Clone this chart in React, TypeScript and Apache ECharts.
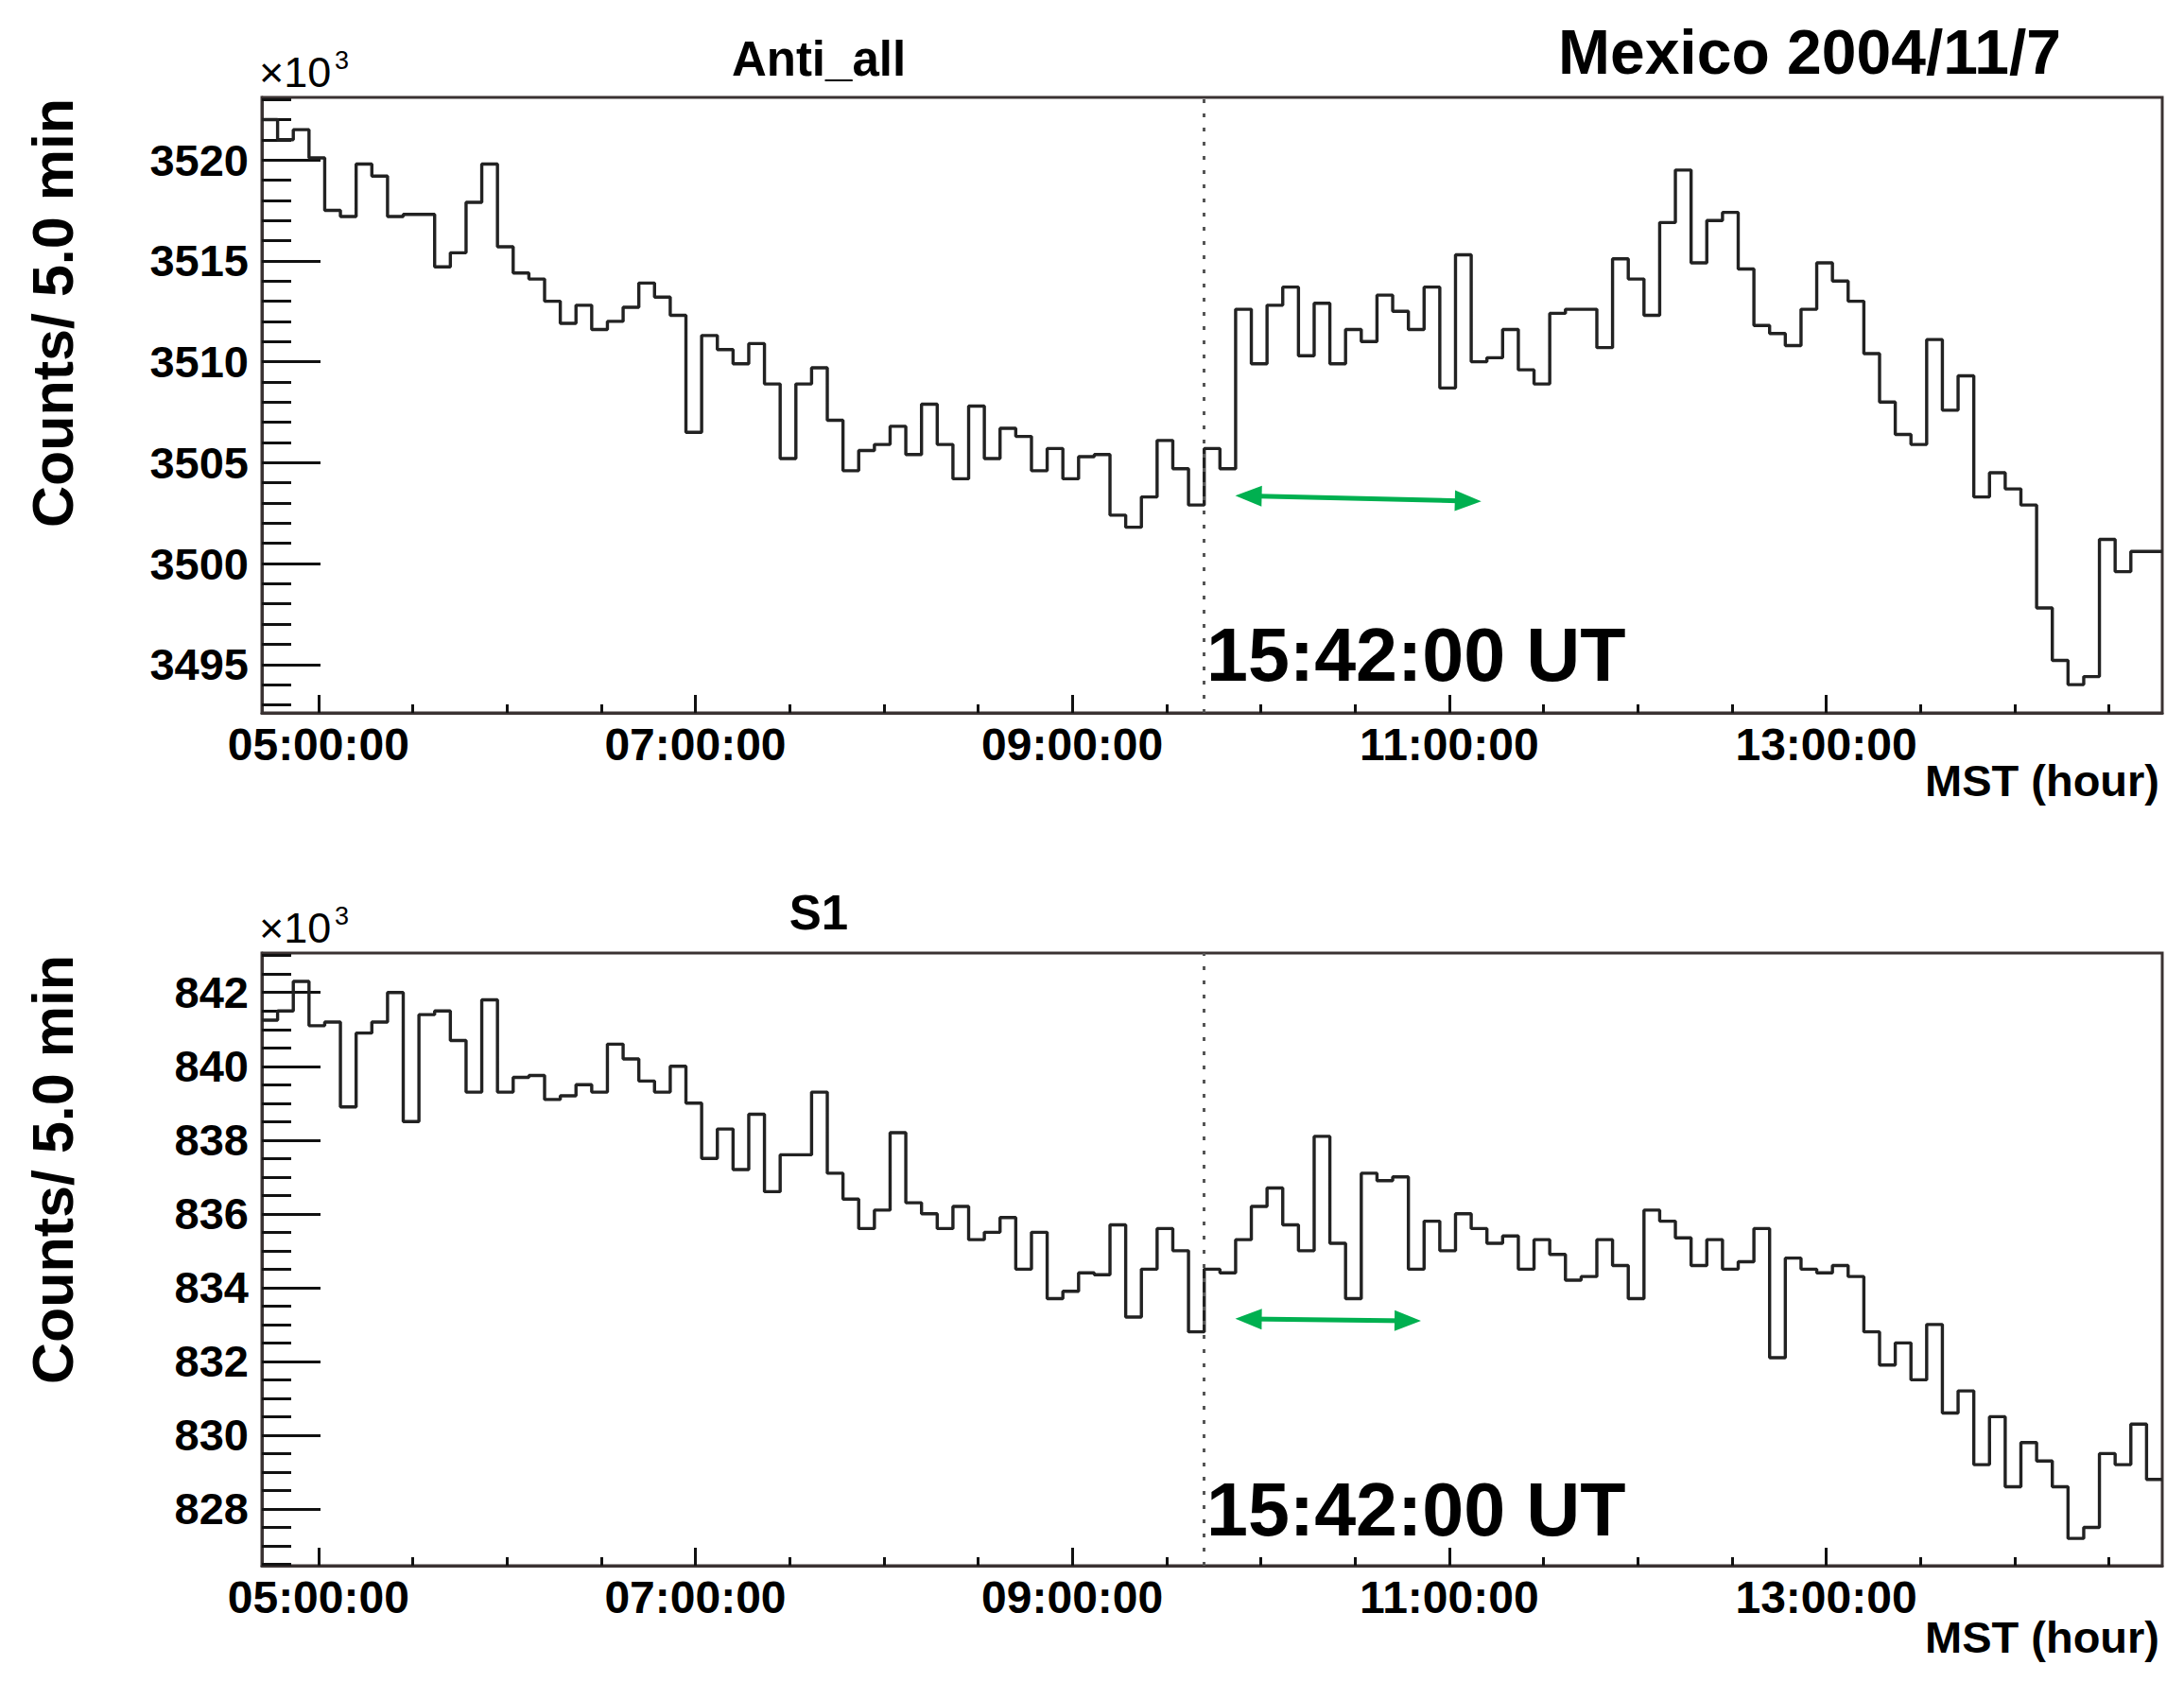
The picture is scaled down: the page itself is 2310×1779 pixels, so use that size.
import React, { useEffect, useRef } from 'react';
import * as echarts from 'echarts';

// 5-minute histogram bins, first bin starts at 04:42 MST
const BIN_START_HOUR = 4.7;
const BIN_WIDTH_HOUR = 5 / 60;
const MARK_HOUR = 9.7; // 15:42:00 UT

const antiAllCounts = [
  3522.0, 3521.0, 3521.5, 3520.1, 3517.5, 3517.2, 3519.8, 3519.2, 3517.2, 3517.3,
  3517.3, 3514.7, 3515.4, 3517.9, 3519.8, 3515.7, 3514.4, 3514.1, 3513.0, 3511.9,
  3512.8, 3511.6, 3512.0, 3512.7, 3513.9, 3513.2, 3512.3, 3506.5, 3511.3, 3510.6,
  3509.9,
  3510.9, 3508.9, 3505.2, 3508.9, 3509.7, 3507.1, 3504.6, 3505.6, 3505.9, 3506.8,
  3505.4, 3507.9, 3505.9, 3504.2, 3507.8, 3505.2, 3506.7, 3506.3, 3504.6, 3505.7,
  3504.2, 3505.3, 3505.4, 3502.4, 3501.8, 3503.3, 3506.1, 3504.7, 3502.9, 3505.7,
  3504.7, 3512.6, 3509.9, 3512.8, 3513.7, 3510.3, 3512.9, 3509.9, 3511.6, 3511.0,
  3513.3, 3512.5, 3511.6, 3513.7, 3508.7, 3515.3, 3510.0, 3510.2, 3511.6, 3509.6,
  3508.9, 3512.4, 3512.6, 3512.6, 3510.7, 3515.1, 3514.1, 3512.3, 3516.9, 3519.5,
  3514.9,
  3517.0, 3517.4, 3514.6, 3511.8, 3511.4, 3510.8, 3512.6, 3514.9, 3514.0, 3513.0,
  3510.4, 3508.0, 3506.4, 3505.9, 3511.1, 3507.6, 3509.3, 3503.3, 3504.5, 3503.7,
  3502.9, 3497.8, 3495.2, 3494.0, 3494.4, 3501.2, 3499.6, 3500.6, 3500.6,
];

const s1Counts = [
  841.25, 841.5, 842.3, 841.1, 841.2, 838.9, 840.9, 841.2, 842.0, 838.5,
  841.4, 841.5, 840.7, 839.3, 841.8, 839.3, 839.7, 839.75, 839.1, 839.2,
  839.5, 839.3, 840.6, 840.2, 839.6, 839.3, 840.0, 839.0, 837.5, 838.3,
  837.2,
  838.7, 836.6, 837.6, 837.6, 839.3, 837.1, 836.4, 835.6, 836.1, 838.2,
  836.3, 836.0, 835.6, 836.2, 835.3, 835.5, 835.9, 834.5, 835.5, 833.7,
  833.9, 834.4, 834.35, 835.7, 833.2, 834.5, 835.6, 835.0, 832.8, 834.5,
  834.4, 835.3, 836.2, 836.7, 835.7, 835.0, 838.1, 835.2, 833.7, 837.1,
  836.9, 837.0, 834.5, 835.8, 835.0, 836.0, 835.6, 835.2, 835.4, 834.5,
  835.3, 834.9, 834.2, 834.3, 835.3, 834.6, 833.7, 836.1, 835.8, 835.35,
  834.6,
  835.3, 834.5, 834.7, 835.6, 832.1, 834.8, 834.5, 834.4, 834.6, 834.3,
  832.8, 831.9, 832.5, 831.5, 833.0, 830.6, 831.2, 829.2, 830.5, 828.6,
  829.8, 829.3, 828.6, 827.2, 827.5, 829.5, 829.2, 830.3, 828.8,
];

const hourTicks = [5, 7, 9, 11, 13];
const halfHourTicks = [5, 5.5, 6, 6.5, 7, 7.5, 8, 8.5, 9, 9.5, 10, 10.5, 11, 11.5, 12, 12.5, 13, 13.5, 14, 14.5];
const antiMajorTicks = [3495, 3500, 3505, 3510, 3515, 3520];
const antiMinorTicks = [3493, 3494, 3495, 3496, 3497, 3498, 3499, 3500, 3501, 3502, 3503, 3504, 3505, 3506, 3507, 3508, 3509, 3510, 3511, 3512, 3513, 3514, 3515, 3516, 3517, 3518, 3519, 3520, 3521, 3522, 3523];
const s1MajorTicks = [828, 830, 832, 834, 836, 838, 840, 842];
const s1MinorTicks = [826.5, 827, 827.5, 828, 828.5, 829, 829.5, 830, 830.5, 831, 831.5, 832, 832.5, 833, 833.5, 834, 834.5, 835, 835.5, 836, 836.5, 837, 837.5, 838, 838.5, 839, 839.5, 840, 840.5, 841, 841.5, 842, 842.5, 843];

// green arrows (start hour, end hour, start level, end level)
const antiArrow = [9.935, 11.1, 3503.35, 3503.1];
const s1Arrow = [9.935, 10.78, 833.15, 833.1];

const FONT = '"Liberation Sans", Arial, Helvetica, sans-serif';
const FRAME = '#3a3232';

function steps(values: number[]) {
  const pts: number[][] = values.map((v, i) => [BIN_START_HOUR + i * BIN_WIDTH_HOUR, v]);
  pts.push([BIN_START_HOUR + values.length * BIN_WIDTH_HOUR, values[values.length - 1]]);
  return pts;
}

const X_MIN = BIN_START_HOUR;
const X_MAX = BIN_START_HOUR + antiAllCounts.length * BIN_WIDTH_HOUR;

function fmtHour(v: number) {
  return String(Math.round(v)).padStart(2, '0') + ':00:00';
}

function xAxes(gridIndex: number) {
  return [
    {
      type: 'value', gridIndex, min: X_MIN, max: X_MAX, position: 'bottom',
      axisLine: { show: true, onZero: false, lineStyle: { color: FRAME, width: 3 } },
      axisTick: { show: true, inside: true, length: 19, customValues: hourTicks, lineStyle: { color: '#111', width: 3 } },
      axisLabel: { show: true, customValues: hourTicks, formatter: fmtHour, fontSize: 48, fontWeight: 'bold', color: '#000', fontFamily: FONT, margin: 9 },
      splitLine: { show: false },
    },
    {
      type: 'value', gridIndex, min: X_MIN, max: X_MAX, position: 'bottom',
      axisLine: { show: false, onZero: false },
      axisTick: { show: true, inside: true, length: 9, customValues: halfHourTicks, lineStyle: { color: '#111', width: 3 } },
      axisLabel: { show: false },
      splitLine: { show: false },
    },
  ];
}

function yAxes(gridIndex: number, min: number, max: number, major: number[], minor: number[]) {
  return [
    {
      type: 'value', gridIndex, min, max, position: 'left',
      axisLine: { show: true, onZero: false, lineStyle: { color: FRAME, width: 3 } },
      axisTick: { show: true, inside: true, length: 62, customValues: major, lineStyle: { color: '#111', width: 3 } },
      axisLabel: { show: true, customValues: major, formatter: (v: number) => String(Math.round(v)), fontSize: 47, fontWeight: 'bold', color: '#000', fontFamily: FONT, margin: 14 },
      splitLine: { show: false },
    },
    {
      type: 'value', gridIndex, min, max, position: 'left',
      axisLine: { show: false, onZero: false },
      axisTick: { show: true, inside: true, length: 31, customValues: minor, lineStyle: { color: '#111', width: 3 } },
      axisLabel: { show: false },
      splitLine: { show: false },
    },
  ];
}

function histSeries(name: string, values: number[], axisIdx: number, arrow: number[]) {
  return {
    name, type: 'line', xAxisIndex: axisIdx, yAxisIndex: axisIdx, step: 'end',
    data: steps(values), symbol: 'none', silent: true,
    lineStyle: { color: '#222222', width: 3.4 },
    markLine: {
      silent: true, symbol: ['none', 'none'], label: { show: false },
      data: [
        { xAxis: MARK_HOUR, lineStyle: { color: '#555', width: 3, type: [4, 11] } },
        [
          { coord: [arrow[0], arrow[2]], symbol: 'triangle', symbolSize: [22, 28], lineStyle: { color: '#00b050', width: 5, type: 'solid' }, itemStyle: { color: '#00b050' } },
          { coord: [arrow[1], arrow[3]], symbol: 'triangle', symbolSize: [22, 28], itemStyle: { color: '#00b050' } },
        ],
      ],
    },
  };
}

function txt(x: number, y: number, text: string, size: number, align: string, vAlign: string, weight = 'bold', rotation = 0) {
  return {
    type: 'text', x, y, rotation, silent: true,
    style: {
      text, fill: '#000', font: `${weight} ${size}px ${FONT}`,
      textAlign: align, textVerticalAlign: vAlign, align, verticalAlign: vAlign,
    },
  };
}

export default function App() {
  const ref = useRef<HTMLDivElement>(null);
  useEffect(() => {
    if (!ref.current) return;
    const chart = echarts.init(ref.current, null, { renderer: 'svg' });
    const option: any = {
      animation: false,
      backgroundColor: '#ffffff',
      textStyle: { fontFamily: FONT },
      grid: [
        { left: 277, top: 103, width: 2010, height: 651, show: true, borderColor: FRAME, borderWidth: 3, backgroundColor: 'transparent' },
        { left: 277, top: 1008, width: 2010, height: 648, show: true, borderColor: FRAME, borderWidth: 3, backgroundColor: 'transparent' },
      ],
      xAxis: [...xAxes(0), ...xAxes(1)],
      yAxis: [
        ...yAxes(0, 3492.6, 3523.1, antiMajorTicks, antiMinorTicks),
        ...yAxes(1, 826.46, 843.07, s1MajorTicks, s1MinorTicks),
      ],
      series: [
        histSeries('Anti_all', antiAllCounts, 0, antiArrow),
        histSeries('S1', s1Counts, 2, s1Arrow),
      ],
      graphic: [
        txt(56, 331, 'Counts/ 5.0 min', 61, 'center', 'middle', 'bold', Math.PI / 2),
        txt(56, 1237, 'Counts/ 5.0 min', 61, 'center', 'middle', 'bold', Math.PI / 2),
        txt(866, 62, 'Anti_all', 51, 'center', 'middle'),
        txt(866, 965, 'S1', 51, 'center', 'middle'),
        txt(1914, 55, 'Mexico 2004/11/7', 66, 'center', 'middle'),
        txt(274, 99, '×10', 45, 'left', 'bottom', 'normal'),
        txt(354, 50, '3', 27, 'left', 'top', 'normal'),
        txt(274, 1004, '×10', 45, 'left', 'bottom', 'normal'),
        txt(354, 955, '3', 27, 'left', 'top', 'normal'),
        txt(2284, 825, 'MST (hour)', 47, 'right', 'middle'),
        txt(2284, 1731, 'MST (hour)', 47, 'right', 'middle'),
        txt(1276, 692, '15:42:00 UT', 79, 'left', 'middle'),
        txt(1276, 1596, '15:42:00 UT', 79, 'left', 'middle'),
      ],
    };
    chart.setOption(option);
    return () => chart.dispose();
  }, []);
  return (
    <div
      ref={ref}
      style={{ position: 'absolute', left: 0, top: 0, width: 2310, height: 1779, background: '#fff' }}
    />
  );
}
